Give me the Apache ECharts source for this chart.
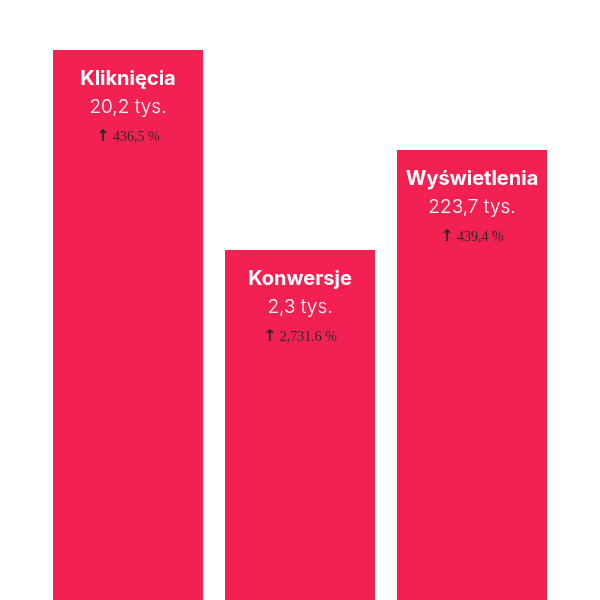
<!DOCTYPE html>
<html><head><meta charset="utf-8">
<script src="https://cdn.jsdelivr.net/npm/echarts@6/dist/echarts.min.js"></script>
<style>html,body{margin:0;padding:0;background:#fff}#c{width:600px;height:600px}</style>
</head><body><div id="c"></div>
<script>
const categories = ['Kliknięcia', 'Konwersje', 'Wyświetlenia'];
const valueLabels = ['20,2 tys.', '2,3 tys.', '223,7 tys.'];
const changeLabels = ['436,5 %', '2,731.6 %', '439,4 %'];
// visual bar heights (relative units)
const barHeights = [5.5, 3.5, 4.5];

const chart = echarts.init(document.getElementById('c'));
chart.setOption({
  animation: false,
  grid: { left: 42, right: 42, top: 0, bottom: 0 },
  xAxis: { type: 'category', data: categories, show: false },
  yAxis: { type: 'value', min: 0, max: 6, show: false },
  series: [{
    type: 'bar',
    data: barHeights,
    barWidth: 150,
    itemStyle: { color: '#F22152' },
    label: {
      show: true,
      position: 'insideTop',
      distance: 15,
      align: 'center',
      formatter: p => '{t|' + categories[p.dataIndex] + '}\n{v|' + valueLabels[p.dataIndex] + '}\n{a|\u2191} {p|' + changeLabels[p.dataIndex] + '}',
      rich: {
        t: { fontFamily: 'Inter', fontWeight: 'bold', fontSize: 20, color: '#fff', lineHeight: 28, align: 'center' },
        v: { fontFamily: 'Inter', fontWeight: 300, fontSize: 19, color: '#fff', lineHeight: 29, align: 'center' },
        a: { fontFamily: 'DejaVu Sans', fontWeight: 'bold', fontSize: 16, color: '#2a2a2a', lineHeight: 30 },
        p: { fontFamily: 'Liberation Serif', fontSize: 14, color: '#2a2a2a', lineHeight: 30 }
      }
    }
  }]
});
</script></body></html>
